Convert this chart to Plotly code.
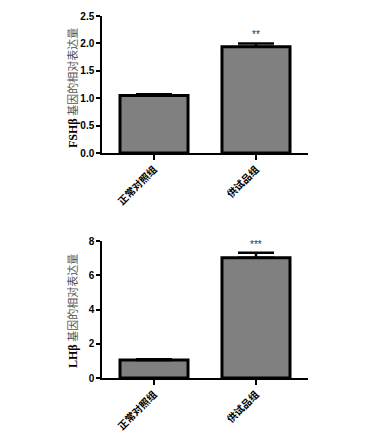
import plotly.graph_objects as go

categories = ["正常对照组", "供试品组"]
fsh_values = [1.05, 1.94]
fsh_errors = [0.02, 0.06]
lh_values = [1.05, 7.02]
lh_errors = [0.05, 0.30]
fsh_sig = ["", "**"]
lh_sig = ["", "***"]
fsh_ticks = [0.0, 0.5, 1.0, 1.5, 2.0, 2.5]
fsh_ticktext = ["0.0", "0.5", "1.0", "1.5", "2.0", "2.5"]
lh_ticks = [0, 2, 4, 6, 8]

# page body has an 8px default margin; work in page pixels and shift
OFF = 8
W, H = 378 - OFF, 436 - OFF


def px_x(x):
    return (x - OFF) / W


def px_y(y):
    return (H - (y - OFF)) / H


fig = go.Figure()

bar_style = dict(marker=dict(color="#808080", line=dict(color="black", width=3)), width=0.667)

fig.add_trace(go.Bar(x=categories, y=fsh_values, xaxis="x", yaxis="y",
                     error_y=dict(type="data", symmetric=False, array=fsh_errors,
                                  arrayminus=[0, 0], color="black", thickness=2.5, width=18),
                     **bar_style))
fig.add_trace(go.Bar(x=categories, y=lh_values, xaxis="x2", yaxis="y2",
                     error_y=dict(type="data", symmetric=False, array=lh_errors,
                                  arrayminus=[0, 0], color="black", thickness=2.5, width=18),
                     **bar_style))

xdom = [px_x(102), px_x(308)]
tickfont_x = dict(family="Noto Sans CJK SC", size=10, color="black")
tickfont_y = dict(family="Liberation Sans", size=10, color="black")
common_x = dict(domain=xdom, range=[-0.51, 1.51], showline=True, linecolor="black", linewidth=1.5,
                ticks="outside", ticklen=5, tickwidth=1.5, tickcolor="black", tickangle=-45,
                tickfont=tickfont_x, showgrid=False, zeroline=False, automargin=False)
common_y = dict(showline=True, linecolor="black", linewidth=1.5, ticks="outside", ticklen=4,
                tickwidth=1.5, tickcolor="black", tickfont=tickfont_y, showgrid=False, zeroline=False,
                automargin=False)

fig.update_layout(
    width=W, height=H, margin=dict(l=0, r=0, t=0, b=0, autoexpand=False),
    paper_bgcolor="white", plot_bgcolor="white", showlegend=False, bargap=0.33,
    xaxis=dict(anchor="y", **common_x),
    yaxis=dict(anchor="x", domain=[px_y(153), px_y(16)], range=[0, 2.5],
               tickvals=fsh_ticks, ticktext=[f"<b>{t}</b>" for t in fsh_ticktext], **common_y),
    xaxis2=dict(anchor="y2", **common_x),
    yaxis2=dict(anchor="x2", domain=[px_y(378), px_y(241)], range=[0, 8],
                tickvals=lh_ticks, ticktext=[f"<b>{t}</b>" for t in lh_ticks], **common_y),
)
fig.update_xaxes(ticktext=[f"<b>{c}</b>" for c in categories], tickvals=categories)

annotations = []
for c, v, e, s in zip(categories, fsh_values, fsh_errors, fsh_sig):
    if s:
        annotations.append(dict(x=c, y=v + e, xref="x", yref="y", text=s, showarrow=False,
                                yanchor="bottom", yshift=1, font=dict(family="Liberation Sans", size=10, color="#333")))
for c, v, e, s in zip(categories, lh_values, lh_errors, lh_sig):
    if s:
        annotations.append(dict(x=c, y=v + e, xref="x2", yref="y2", text=s, showarrow=False,
                                yanchor="bottom", yshift=1, font=dict(family="Liberation Sans", size=10, color="#333")))

title_tpl = ("<span style='font-family:Liberation Serif;font-weight:bold;color:black;font-size:12px'>{}</span>"
             " 基因的相对表达量")
annotations.append(dict(x=px_x(72), y=px_y(88), xref="paper", yref="paper", textangle=-90,
                        xanchor="center", yanchor="middle",
                        text=title_tpl.format("FSHβ"), showarrow=False,
                        font=dict(family="Noto Sans CJK SC", size=11, color="#555")))
annotations.append(dict(x=px_x(72), y=px_y(311), xref="paper", yref="paper", textangle=-90,
                        xanchor="center", yanchor="middle",
                        text=title_tpl.format("LHβ"), showarrow=False,
                        font=dict(family="Noto Sans CJK SC", size=11, color="#555")))
fig.update_layout(annotations=annotations)

fig.write_html("out.html")
